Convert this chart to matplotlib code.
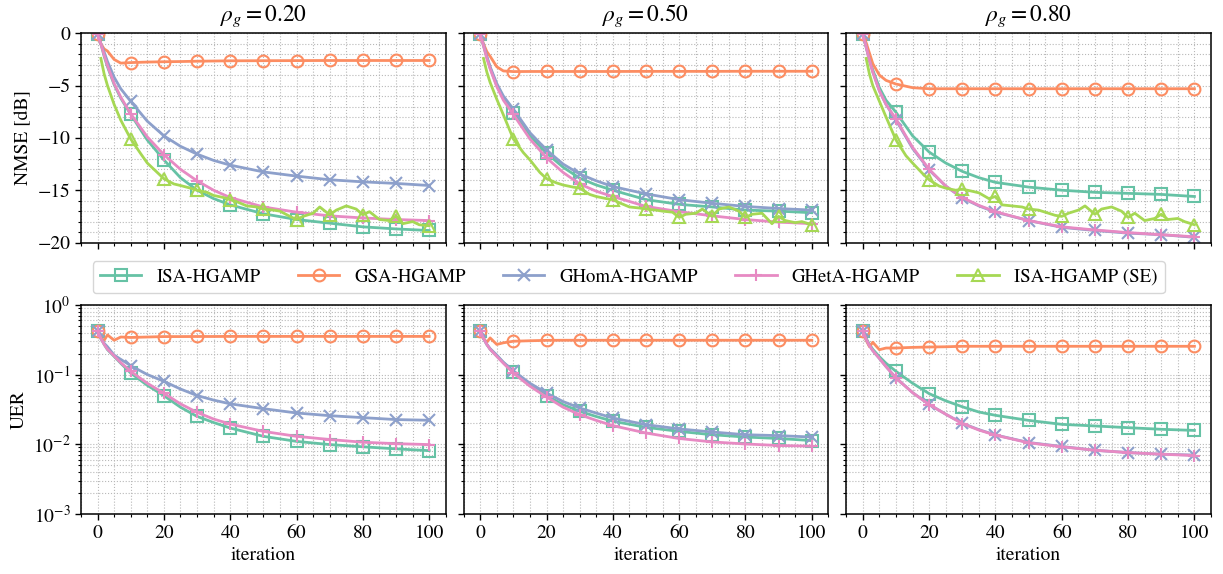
import numpy as np
import matplotlib
matplotlib.use("Agg")
import matplotlib.pyplot as plt
from matplotlib.ticker import MultipleLocator, LogLocator, NullFormatter

plt.rcParams['font.family'] = 'STIXGeneral'
plt.rcParams['mathtext.fontset'] = 'stix'
plt.rcParams['font.size'] = 14

# labels / styling per method
rho_labels = ['0.20', '0.50', '0.80']
methods = ['ISA-HGAMP', 'GSA-HGAMP', 'GHomA-HGAMP', 'GHetA-HGAMP', 'ISA-HGAMP (SE)']
colors = ['#66c2a5', '#fc8d62', '#8da0cb', '#e78ac3', '#a6d854']
markers = ['s', 'o', 'x', '+', '^']

# iteration grid of the algorithm curves, and of the state evolution curve
iters = [0, 1, 2, 3, 5, 7, 10, 15, 20, 25, 30, 35, 40, 50, 60, 70, 80, 90, 100]
se_iters = [1, 2, 3, 5, 7, 10, 13, 15, 18, 20, 23, 25, 28, 30, 33, 35, 38, 40, 42, 45, 48,
            50, 53, 55, 58, 60, 62, 65, 67, 70, 72, 75, 78, 80, 82, 85, 88, 90, 92, 95, 97, 100]

# NMSE [dB], one list per rho_g
nmse_isa = [
    [-0.1, -1.0, -2.2, -3.2, -4.9, -6.2, -7.75, -10.2, -12.1, -13.8, -15.0, -15.8, -16.4, -17.25, -17.8, -18.15, -18.5, -18.7, -18.85],
    [-0.1, -1.2, -2.3, -3.3, -5.0, -6.2, -7.6, -9.8, -11.45, -12.8, -13.85, -14.5, -15.0, -15.9, -16.35, -16.6, -16.9, -17.0, -17.15],
    [-0.1, -1.3, -2.5, -3.5, -5.2, -6.4, -7.55, -9.8, -11.35, -12.4, -13.2, -13.8, -14.25, -14.7, -15.0, -15.2, -15.3, -15.4, -15.6],
]
nmse_gsa = [
    [-0.1, -1.0, -1.5, -1.7, -2.5, -2.85, -2.8, -2.75, -2.72, -2.7, -2.67, -2.65, -2.63, -2.62, -2.61, -2.6, -2.6, -2.6, -2.6],
    [-0.1, -1.0, -1.75, -2.2, -3.2, -3.6, -3.66, -3.65, -3.65, -3.65, -3.65, -3.65, -3.65, -3.64, -3.64, -3.64, -3.63, -3.63, -3.63],
    [-0.1, -0.9, -1.9, -2.9, -4.0, -4.5, -4.85, -5.2, -5.3, -5.3, -5.3, -5.3, -5.3, -5.3, -5.3, -5.3, -5.3, -5.3, -5.3],
]
nmse_ghom = [
    [-0.1, -1.0, -1.8, -2.7, -4.2, -5.3, -6.5, -8.4, -9.8, -10.8, -11.55, -12.15, -12.6, -13.25, -13.65, -14.0, -14.2, -14.35, -14.55],
    [-0.1, -1.1, -2.2, -3.2, -4.8, -6.0, -7.25, -9.5, -11.15, -12.5, -13.45, -14.1, -14.65, -15.35, -15.9, -16.25, -16.55, -16.75, -16.9],
    [-0.1, -1.3, -2.6, -3.7, -5.5, -6.8, -8.3, -11.0, -13.05, -14.6, -15.75, -16.5, -17.1, -17.9, -18.55, -18.85, -19.1, -19.25, -19.5],
]
nmse_ghet = [
    [-0.1, -1.0, -2.1, -3.1, -4.8, -6.1, -7.7, -9.9, -11.6, -13.0, -14.1, -15.0, -15.7, -16.6, -17.1, -17.45, -17.65, -17.8, -17.9],
    [-0.1, -1.2, -2.4, -3.4, -5.1, -6.4, -7.75, -10.1, -11.9, -13.3, -14.4, -15.1, -15.6, -16.55, -17.05, -17.45, -17.8, -18.05, -18.2],
    [-0.1, -1.3, -2.6, -3.7, -5.5, -6.8, -8.2, -10.9, -13.0, -14.6, -15.7, -16.45, -17.05, -17.9, -18.5, -18.8, -19.05, -19.25, -19.45],
]
nmse_se = [
    [-2.4, -3.9, -5.0, -6.8, -8.3, -10.1, -11.5, -12.4, -13.3, -13.9, -14.4, -14.55, -14.8, -15.0, -15.2, -15.5, -15.7, -15.9, -16.1, -16.5, -16.6,
     -16.8, -16.9, -17.0, -17.5, -17.8, -17.5, -17.2, -16.6, -17.35, -16.9, -16.5, -16.8, -17.35, -17.05, -17.8, -17.9, -17.45, -18.2, -18.0, -18.3, -18.4],
    [-2.4, -3.7, -4.7, -6.3, -7.8, -10.1, -11.4, -12.1, -13.3, -13.9, -14.3, -14.5, -14.7, -14.8, -15.4, -15.6, -15.8, -15.9, -16.2, -16.6, -16.7,
     -16.8, -16.9, -17.0, -17.1, -17.6, -17.3, -17.2, -16.8, -17.5, -16.8, -16.6, -17.0, -17.6, -17.3, -17.2, -18.2, -17.5, -17.9, -18.1, -18.0, -18.3],
    [-2.4, -3.9, -5.0, -6.5, -8.0, -10.2, -11.7, -12.4, -13.4, -14.0, -14.6, -14.8, -15.0, -14.9, -15.1, -15.25, -15.8, -15.6, -16.4, -16.5, -16.6,
     -16.8, -16.9, -17.1, -17.4, -17.5, -17.2, -16.9, -16.5, -17.3, -16.8, -16.6, -17.0, -17.6, -17.2, -17.9, -17.7, -17.3, -17.8, -17.7, -18.0, -18.3],
]

# UER, one list per rho_g
uer_isa = [
    [0.42, 0.33, 0.27, 0.227, 0.182, 0.145, 0.105, 0.07, 0.0498, 0.034, 0.0251, 0.0205, 0.0171, 0.013, 0.011, 0.0099, 0.0092, 0.0086, 0.0081],
    [0.42, 0.33, 0.27, 0.23, 0.185, 0.148, 0.107, 0.07, 0.0498, 0.037, 0.0297, 0.025, 0.0214, 0.0175, 0.0153, 0.0137, 0.0127, 0.0121, 0.0113],
    [0.42, 0.33, 0.27, 0.23, 0.18, 0.145, 0.111, 0.075, 0.0532, 0.042, 0.0345, 0.029, 0.026, 0.022, 0.0193, 0.0183, 0.0173, 0.0164, 0.0158],
]
uer_gsa = [
    [0.415, 0.33, 0.31, 0.37, 0.31, 0.345, 0.34, 0.345, 0.35, 0.35, 0.351, 0.351, 0.352, 0.352, 0.352, 0.352, 0.352, 0.352, 0.352],
    [0.415, 0.33, 0.29, 0.335, 0.27, 0.285, 0.30, 0.305, 0.309, 0.31, 0.31, 0.31, 0.31, 0.31, 0.31, 0.31, 0.31, 0.31, 0.31],
    [0.415, 0.31, 0.25, 0.29, 0.227, 0.24, 0.24, 0.245, 0.248, 0.25, 0.254, 0.254, 0.254, 0.254, 0.254, 0.254, 0.254, 0.254, 0.254],
]
uer_ghom = [
    [0.42, 0.33, 0.28, 0.25, 0.19, 0.165, 0.134, 0.1, 0.08, 0.062, 0.05, 0.043, 0.038, 0.0324, 0.0281, 0.0257, 0.0241, 0.0226, 0.0221],
    [0.42, 0.33, 0.27, 0.235, 0.19, 0.15, 0.113, 0.075, 0.0543, 0.041, 0.0331, 0.028, 0.0238, 0.0191, 0.0166, 0.015, 0.0137, 0.0133, 0.0127],
    [0.42, 0.32, 0.26, 0.22, 0.17, 0.13, 0.0896, 0.055, 0.0373, 0.027, 0.02, 0.0162, 0.0136, 0.0106, 0.0093, 0.0082, 0.0076, 0.0072, 0.0070],
]
uer_ghet = [
    [0.42, 0.33, 0.27, 0.23, 0.185, 0.148, 0.111, 0.075, 0.054, 0.038, 0.0287, 0.023, 0.0195, 0.0153, 0.013, 0.0117, 0.0107, 0.0102, 0.0099],
    [0.42, 0.33, 0.27, 0.23, 0.182, 0.145, 0.105, 0.068, 0.0476, 0.034, 0.0266, 0.022, 0.0185, 0.0145, 0.0121, 0.0108, 0.0101, 0.0096, 0.0094],
    [0.42, 0.32, 0.26, 0.22, 0.17, 0.13, 0.089, 0.055, 0.037, 0.027, 0.0198, 0.016, 0.0135, 0.0105, 0.0092, 0.0082, 0.0076, 0.0072, 0.0069],
]

mark_main = [i for i, t in enumerate(iters) if t % 10 == 0]
mark_se = [i for i, t in enumerate(se_iters) if t % 10 == 0]


def style_axis(ax):
    ax.set_xlim(-5, 105)
    ax.xaxis.set_major_locator(MultipleLocator(20))
    ax.xaxis.set_minor_locator(MultipleLocator(5))
    ax.grid(True, which='both', linestyle=':', color='#b8b8b8', linewidth=0.8)
    ax.tick_params(which='major', length=4, width=1.0)
    ax.tick_params(which='minor', length=2.5, width=0.8)
    for s in ax.spines.values():
        s.set_linewidth(1.1)


fig, axes = plt.subplots(2, 3, figsize=(12.23, 5.74), dpi=100, sharex=True)
fig.subplots_adjust(left=0.0662, right=0.9902, top=0.942, bottom=0.1045, wspace=0.049, hspace=0.2975)

kw = dict(linewidth=2, markersize=8.5, markerfacecolor='none', markeredgewidth=1.5)

for j in range(3):
    ax = axes[0, j]
    series = [nmse_isa[j], nmse_gsa[j], nmse_ghom[j], nmse_ghet[j]]
    for k in range(4):
        ax.plot(iters, series[k], color=colors[k], marker=markers[k],
                markevery=mark_main, label=methods[k], **kw)
    ax.plot(se_iters, nmse_se[j], color=colors[4], marker=markers[4],
            markevery=mark_se, label=methods[4], **kw)
    ax.set_ylim(-20, 0)
    ax.yaxis.set_major_locator(MultipleLocator(5))
    ax.yaxis.set_minor_locator(MultipleLocator(1))
    style_axis(ax)
    ax.set_title(r'$\rho_g = %s$' % rho_labels[j], pad=9)
    if j > 0:
        ax.tick_params(labelleft=False)

    ax = axes[1, j]
    series = [uer_isa[j], uer_gsa[j], uer_ghom[j], uer_ghet[j]]
    for k in range(4):
        ax.plot(iters, series[k], color=colors[k], marker=markers[k],
                markevery=mark_main, **kw)
    ax.set_yscale('log')
    ax.set_ylim(1e-3, 1)
    ax.yaxis.set_major_locator(LogLocator(base=10, numticks=10))
    ax.yaxis.set_minor_locator(LogLocator(base=10, subs=np.arange(2, 10), numticks=10))
    ax.yaxis.set_minor_formatter(NullFormatter())
    style_axis(ax)
    ax.set_xlabel('iteration', labelpad=4)
    if j > 0:
        ax.tick_params(labelleft=False)

axes[0, 0].set_ylabel('NMSE [dB]')
axes[1, 0].set_ylabel('UER')

handles, labels = axes[0, 0].get_legend_handles_labels()
fig.legend(handles, labels, loc='center', bbox_to_anchor=(0.514, 0.517), ncol=5,
           handlelength=2.2, fontsize=13.5)

fig.savefig('out.png', dpi=100)
